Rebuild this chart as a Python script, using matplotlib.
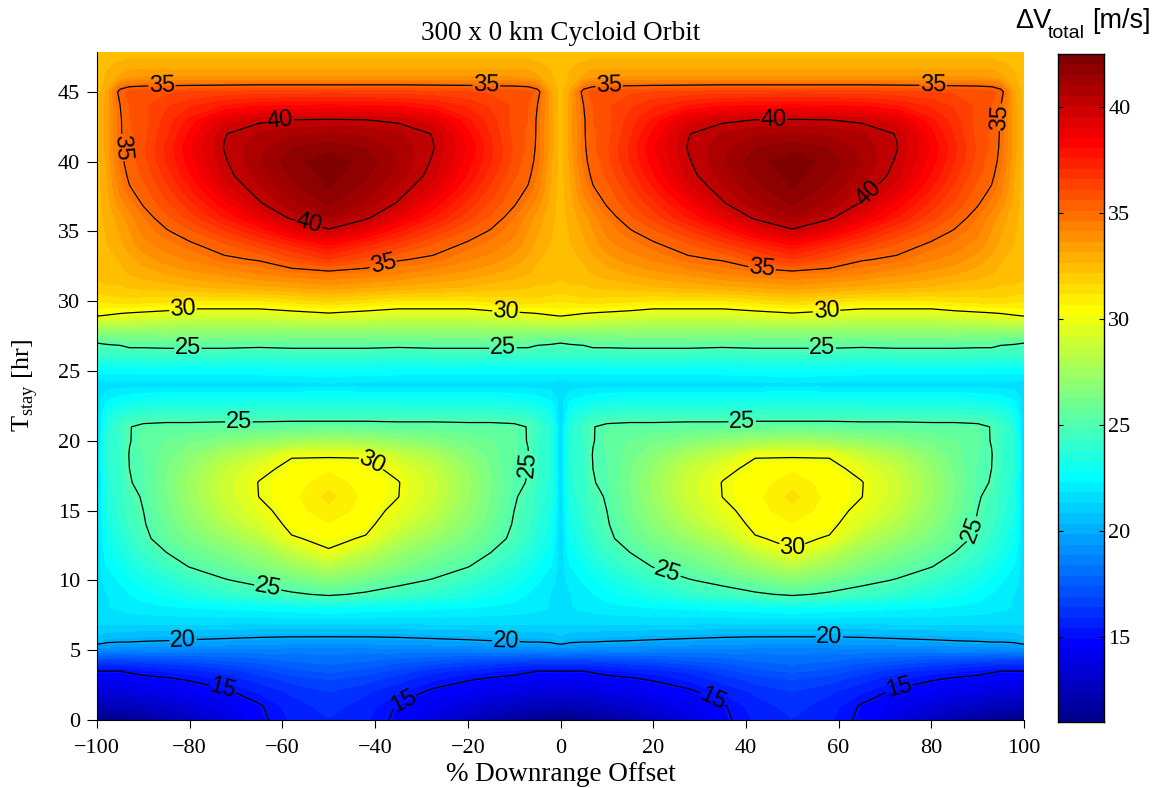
import numpy as np
import matplotlib
matplotlib.use('Agg')
import matplotlib.pyplot as plt
from matplotlib.colors import BoundaryNorm, ListedColormap

title = '300 x 0 km Cycloid Orbit'
x_label = '% Downrange Offset'
y_label = r'T$_{\mathregular{stay}}$ [hr]'
x_ticks = [-100, -80, -60, -40, -20, 0, 20, 40, 60, 80, 100]
y_ticks = [0, 5, 10, 15, 20, 25, 30, 35, 40, 45]
cbar_ticks = [15, 20, 25, 30, 35, 40]
contour_levels = [15, 20, 25, 30, 35, 40]

# offset from -100 %, one half period (the map repeats by mirror images)
offset = [0, 2, 5, 7, 10, 15, 20, 27.5, 35, 42, 50]
t_stay = [0, 1, 2, 3, 3.5, 4, 5, 5.5, 6, 7, 8, 9, 10, 11, 12, 13, 14, 15, 16, 17, 18, 19, 20, 21, 22,
          23, 24, 25, 26, 27, 28, 29, 30, 31, 32, 33, 34, 35, 36, 37, 38, 39, 40, 41, 42, 43, 44, 45, 46, 47, 48]
dv = [
 [11.0, 11.1, 11.2, 11.4, 11.7, 12.2, 12.8, 13.8, 14.8, 15.5, 15.9],
 [12.3, 12.4, 12.5, 12.6, 12.8, 13.1, 13.5, 14.2, 14.9, 15.7, 16.1],
 [13.5, 13.5, 13.6, 13.7, 13.9, 14.1, 14.4, 14.8, 15.5, 16.0, 16.4],
 [14.5, 14.5, 14.6, 14.7, 14.8, 14.95, 15.15, 15.6, 16.2, 16.7, 17.0],
 [15.0, 15.0, 15.0, 15.1, 15.3, 15.5, 15.7, 16.1, 16.7, 17.2, 17.5],
 [16.0, 16.0, 16.0, 16.1, 16.2, 16.4, 16.6, 16.9, 17.3, 17.7, 17.9],
 [18.9, 18.9, 18.85, 18.8, 18.8, 18.75, 18.7, 18.7, 18.65, 18.6, 18.6],
 [20.2, 19.95, 19.9, 19.9, 19.85, 19.8, 19.7, 19.6, 19.5, 19.45, 19.4],
 [20.8, 20.6, 20.5, 20.5, 20.4, 20.35, 20.3, 20.2, 20.1, 20.05, 20.05],
 [21.4, 21.5, 21.5, 21.5, 21.5, 21.5, 21.5, 21.5, 21.5, 21.5, 21.5],
 [21.7, 21.8, 21.9, 22.0, 22.1, 22.2, 22.3, 22.4, 22.5, 22.6, 22.8],
 [21.6, 21.8, 22.1, 22.3, 22.6, 23.0, 23.4, 24.0, 24.4, 24.8, 25.2],
 [21.6, 22.0, 22.4, 22.7, 23.1, 23.6, 24.2, 24.9, 25.4, 26.0, 26.7],
 [21.5, 22.3, 22.8, 23.2, 23.7, 24.4, 25.05, 25.7, 26.5, 27.4, 28.2],
 [21.4, 22.6, 23.2, 23.7, 24.2, 25.0, 25.7, 26.4, 27.3, 28.5, 29.9],
 [21.4, 22.9, 23.6, 24.1, 24.7, 25.6, 26.3, 27.3, 28.3, 29.9, 30.25],
 [21.4, 23.1, 23.8, 24.4, 24.9, 25.8, 26.8, 28.0, 29.2, 30.3, 30.65],
 [21.4, 23.3, 24.0, 24.6, 25.0, 26.1, 27.1, 28.5, 29.7, 30.45, 31.0],
 [21.4, 23.5, 24.1, 24.7, 25.1, 26.2, 27.3, 28.85, 30.02, 30.5, 31.35],
 [21.3, 23.6, 24.2, 24.95, 25.2, 26.3, 27.4, 28.9, 30.05, 30.45, 30.95],
 [21.3, 23.7, 24.3, 25.0, 25.2, 26.2, 27.2, 28.6, 29.7, 30.3, 30.6],
 [21.3, 23.7, 24.3, 25.05, 25.3, 26.0, 26.8, 27.9, 28.7, 29.9, 29.85],
 [21.3, 23.7, 24.3, 24.95, 25.4, 25.8, 26.1, 26.6, 27.0, 27.4, 27.7],
 [21.3, 23.6, 24.4, 24.95, 25.3, 25.4, 25.4, 25.5, 25.5, 25.6, 25.6],
 [21.3, 23.0, 23.6, 23.8, 24.0, 24.1, 24.1, 24.1, 24.1, 24.1, 24.1],
 [21.6, 22.2, 22.5, 22.7, 22.8, 22.9, 22.9, 22.9, 23.0, 23.0, 23.0],
 [21.4, 21.6, 21.6, 21.6, 21.6, 21.6, 21.6, 21.6, 21.6, 21.6, 21.7],
 [22.5, 22.5, 22.5, 22.5, 22.6, 22.6, 22.6, 22.6, 22.6, 22.7, 22.7],
 [24.0, 24.0, 24.0, 24.0, 24.0, 24.0, 24.0, 24.0, 23.9, 24.0, 24.0],
 [25.0, 25.1, 25.2, 25.5, 25.5, 25.6, 25.6, 25.6, 25.5, 25.6, 25.6],
 [27.4, 27.5, 27.5, 27.4, 27.4, 27.4, 27.3, 27.3, 27.3, 27.3, 27.3],
 [30.2, 30.0, 29.8, 29.7, 29.6, 29.4, 29.1, 29.1, 29.1, 29.4, 29.7],
 [31.2, 31.3, 31.5, 31.5, 31.4, 31.3, 31.1, 31.1, 31.1, 31.4, 31.7],
 [32.0, 32.1, 32.1, 32.2, 32.3, 32.4, 32.6, 32.8, 33.0, 33.2, 33.4],
 [32.3, 32.4, 32.5, 32.7, 32.9, 33.2, 33.5, 33.8, 34.2, 34.5, 34.7],
 [32.4, 32.5, 32.7, 33.0, 33.4, 33.9, 34.2, 34.8, 35.1, 35.9, 36.6],
 [32.4, 32.6, 33.0, 33.4, 33.9, 34.4, 34.8, 35.5, 36.3, 37.1, 38.0],
 [32.4, 32.7, 33.2, 33.6, 34.3, 34.9, 35.5, 36.5, 37.6, 38.8, 39.8],
 [32.4, 32.8, 33.4, 33.9, 34.6, 35.5, 36.3, 37.6, 38.9, 40.2, 41.0],
 [32.4, 32.9, 33.9, 34.4, 35.1, 36.0, 36.9, 38.4, 39.9, 40.9, 41.6],
 [32.4, 33.0, 34.3, 34.9, 35.4, 36.4, 37.5, 39.2, 40.4, 41.3, 42.0],
 [32.4, 33.1, 34.5, 35.2, 35.7, 36.8, 38.0, 39.7, 40.8, 41.6, 42.2],
 [32.4, 33.2, 34.8, 35.3, 35.9, 37.1, 38.3, 39.9, 41.0, 41.8, 42.4],
 [32.4, 33.3, 34.85, 35.5, 36.0, 37.2, 38.5, 40.05, 40.9, 41.5, 41.8],
 [32.4, 33.3, 34.9, 35.5, 35.9, 37.0, 38.2, 39.95, 40.6, 40.9, 41.1],
 [32.4, 33.3, 34.9, 35.6, 35.9, 36.8, 37.7, 39.2, 39.8, 40.0, 40.05],
 [32.4, 33.3, 35.0, 35.6, 36.0, 36.5, 37.0, 37.6, 38.0, 38.1, 38.2],
 [32.4, 33.2, 35.4, 35.8, 35.9, 36.0, 36.1, 36.2, 36.3, 36.3, 36.3],
 [32.4, 32.7, 33.3, 33.6, 33.7, 33.7, 33.7, 33.7, 33.7, 33.7, 33.7],
 [32.4, 32.6, 32.7, 32.8, 32.8, 32.8, 32.8, 32.8, 32.8, 32.8, 32.8],
 [32.3, 32.4, 32.4, 32.4, 32.4, 32.4, 32.4, 32.4, 32.4, 32.4, 32.4],
]

half = np.array(dv)
period = np.hstack([half, half[:, -2::-1]])
z = np.hstack([period, period[:, 1:]])
off = np.array(offset, dtype=float)
xp = np.concatenate([off, 100 - off[-2::-1]])
x = np.concatenate([xp - 100, xp[1:]])
y = np.array(t_stay, dtype=float)

W, H = 1160, 788
serif = 'Liberation Serif'
sans = 'Liberation Sans'
plt.rcParams['font.family'] = serif
fig = plt.figure(figsize=(W / 100, H / 100), dpi=100)

# 64-entry jet as the reference uses it: yellow at entry 40, red at 56
i = np.arange(1, 65)
r = np.interp(i, [24, 40, 56, 64], [0, 1, 1, 0.5])
g = np.interp(i, [8, 24, 40, 56], [0, 1, 1, 0])
b = np.interp(i, [0, 8, 24, 40], [0.5, 1, 1, 0])
cmap = ListedColormap(np.column_stack([r, g, b]))

ax = fig.add_axes([97 / W, 1 - 720 / H, (1024 - 97) / W, (720 - 52) / H])
levels = np.linspace(11, 42.5, 65)
norm = BoundaryNorm(levels, 64)
ax.contourf(x, y, z, levels=levels, cmap=cmap, norm=norm, extend='neither')
cs = ax.contour(x, y, z, levels=contour_levels, colors='k', linewidths=0.9)
manual = [(-86, 45.5), (-16, 45.5), (-95, 41), (-38.3, 32.7), (10.5, 45.5), (80.4, 45.5), (94.4, 43.2), (43.5, 32.4),
          (-60.4, 42.8), (-54.3, 35.5), (46, 43), (66.8, 37.6),
          (-81.4, 29.3), (-11.8, 29.1), (57.4, 29.3), (-80.4, 26.4), (-12.4, 26.7), (56.5, 26.5),
          (-69.4, 21.3), (39.2, 21.3), (-7.9, 18.3), (-63, 9.8), (23.2, 10.7), (87.7, 13.8),
          (-41.3, 18.2), (50, 12.3),
          (-81.4, 5.6), (-11.8, 5.5), (58, 5.9),
          (-72.8, 2.4), (-34.2, 1.6), (32.9, 1.6), (73, 2.4)]
ax.clabel(cs, fmt='%d', manual=manual, fontsize=17, inline=True, inline_spacing=2)
for t in cs.labelTexts:
    t.set_family(sans)

ax.set_xlim(-100, 100)
ax.set_ylim(0, 47.85)
ax.set_xticks(x_ticks)
ax.set_yticks(y_ticks)
ax.spines['top'].set_visible(False)
ax.spines['right'].set_visible(False)
ax.spines['left'].set_linewidth(0.8)
ax.spines['bottom'].set_linewidth(0.8)
ax.tick_params(axis='x', direction='out', length=5.5, width=0.8, labelsize=16, pad=8)
ax.tick_params(axis='y', direction='out', length=7, width=0.8, labelsize=16, pad=5)
ax.set_xlabel(x_label, fontsize=19.5, labelpad=3)
ax.set_ylabel(y_label, fontsize=19, labelpad=13)
ax.set_title(title, fontsize=19.5, pad=8.5)

cax = fig.add_axes([1058 / W, 1 - 722 / H, (1104 - 1058) / W, (722 - 54) / H])
cax.pcolormesh([0, 1], levels, np.arange(64).reshape(-1, 1), cmap=cmap, shading='flat')
cax.set_xticks([])
cax.set_xlim(0, 1)
cax.set_ylim(11, 42.5)
cax.yaxis.tick_right()
cax.set_yticks(cbar_ticks)
cax.tick_params(axis='y', direction='in', length=3.6, width=0.8, labelsize=16, pad=3, left=True, right=True)
for s in cax.spines.values():
    s.set_linewidth(1)
fig.text(1015 / W, 1 - 21 / H, '\u0394V', family=sans, fontsize=19.5, ha='left', va='center')
fig.text(1048 / W, 1 - 34 / H, 'total', family=sans, fontsize=14, ha='left', va='center')
fig.text(1092 / W, 1 - 21 / H, '[m/s]', family=sans, fontsize=19.5, ha='left', va='center')

fig.savefig('out.png', dpi=100)
